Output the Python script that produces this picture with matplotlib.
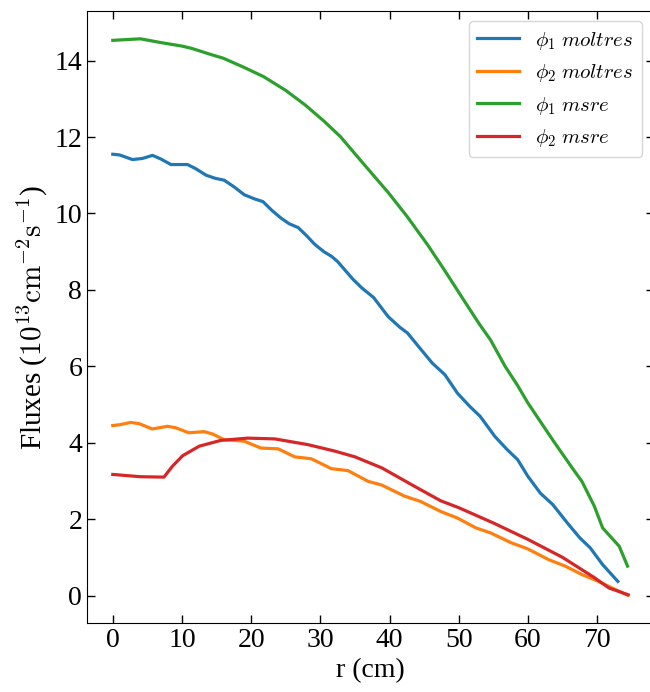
from matplotlib import pyplot as plt

# phi_1 moltres
r_fast_moltres = [0, 1, 2.85, 4.3, 5.75, 7, 8.4, 10.8, 12, 13.5, 14.8, 16.1, 17.5, 19.0, 20.5,
                  21.7, 23, 24.3, 25.5, 26.8, 28, 29.2, 30.5, 31.6, 32.5, 34.7, 36, 37.7, 39.8,
                  41.5, 42.6, 44.5, 46.2, 48.0, 49.8, 51.6, 53.1, 55.2, 57.0, 58.5, 60.0, 61.8,
                  63.6, 65.7, 67.5, 69.0, 70.8, 73.0]
phi1_moltres = [11.55, 11.53, 11.41, 11.44, 11.52, 11.42, 11.28, 11.28, 11.17, 11.00, 10.92, 10.87,
                10.70, 10.49, 10.38, 10.31, 10.08, 9.88, 9.73, 9.63, 9.42, 9.19, 9.00, 8.88, 8.74,
                8.28, 8.05, 7.80, 7.30, 7.02, 6.87, 6.45, 6.08, 5.78, 5.30, 4.95, 4.69, 4.17, 3.82,
                3.56, 3.12, 2.68, 2.38, 1.90, 1.51, 1.25, 0.81, 0.37]

# phi_2 moltres
r_therm_moltres = [0, 1, 2.57, 3.8, 5.7, 7.9, 9.1, 11.0, 13.2, 14.4, 16.1, 19.0, 21.4, 23.9, 26.3,
                   28.7, 31.6, 34.0, 36.9, 38.9, 39.8, 42.2, 44.4, 47.4, 49.8, 52.5, 54.6, 57.6,
                   60.0, 63.0, 65.4, 67.8, 70.2, 72.6, 74.4]
phi2_moltres = [4.45, 4.47, 4.53, 4.50, 4.36, 4.43, 4.39, 4.26, 4.29, 4.23, 4.08, 4.04, 3.86, 3.84,
                3.63, 3.58, 3.32, 3.27, 2.99, 2.89, 2.81, 2.60, 2.47, 2.20, 2.03, 1.77, 1.64, 1.38,
                1.22, 0.94, 0.77, 0.55, 0.37, 0.16, 0.01]

# phi_1 msre
r_fast_msre = [0, 2, 4, 7, 10, 11.4, 14, 16, 19, 21.8, 25, 27.8, 30.5, 32.9, 36, 39.8, 42.5, 45.5,
               48, 50.7, 53, 54.6, 56.7, 58.5, 60, 62, 63.9, 66.6, 67.8, 69.6, 70.8, 73.2, 74.4]
phi1_msre = [14.53, 14.55, 14.57, 14.47, 14.38, 14.32, 14.17, 14.06, 13.82, 13.58, 13.22, 12.84,
             12.42, 12.01, 11.35, 10.55, 9.93, 9.18, 8.50, 7.74, 7.10, 6.69, 6.00, 5.50, 5.04,
             4.50, 3.99, 3.29, 2.99, 2.34, 1.77, 1.29, 0.77]

# phi_2 msre
r_therm_msre = [0, 4.0, 7.4, 8.6, 10.1, 12.5, 15.6, 19.5, 23.4, 28.2, 32.1, 35.0, 38.9, 43.8,
                47.4, 50, 55, 60, 65, 69.6, 71.7, 74.5]
phi2_msre = [3.17, 3.11, 3.10, 3.38, 3.66, 3.91, 4.06, 4.12, 4.10, 3.95, 3.78, 3.63, 3.34, 2.84,
             2.48, 2.30, 1.90, 1.47, 1.00, 0.47, 0.20, 0.02]

plt.rcParams['font.family'] = 'serif'
plt.rcParams['font.serif'] = ['Liberation Serif', 'DejaVu Serif']
plt.rcParams['mathtext.fontset'] = 'cm'

fig = plt.figure(figsize=(6.5, 6.92), dpi=100)
ax = fig.add_axes([87 / 650, 69 / 692, 567 / 650, 612 / 692])

lw = 2.3
ax.plot(r_fast_moltres, phi1_moltres, color='tab:blue', lw=lw, label=r'$\phi_1$ $moltres$')
ax.plot(r_therm_moltres, phi2_moltres, color='tab:orange', lw=lw, label=r'$\phi_2$ $moltres$')
ax.plot(r_fast_msre, phi1_msre, color='tab:green', lw=lw, label=r'$\phi_1$ $msre$')
ax.plot(r_therm_msre, phi2_msre, color='tab:red', lw=lw, label=r'$\phi_2$ $msre$')

ax.set_xlabel('r (cm)', fontsize=20)
ax.set_ylabel(r'Fluxes ($10^{13}\mathrm{cm}^{-2}\mathrm{s}^{-1}$)', fontsize=21)
ax.tick_params(direction='in', top=True, right=True, length=6, width=1, labelsize=20)
ax.set_xticks(range(0, 80, 10))
ax.set_yticks(range(0, 16, 2))
# right edge is cut off in the original picture
ax.spines['right'].set_visible(False)
ax.legend(loc='upper right', fontsize=15, bbox_to_anchor=(0.997, 1.0))

plt.savefig('out.png', dpi=100)
